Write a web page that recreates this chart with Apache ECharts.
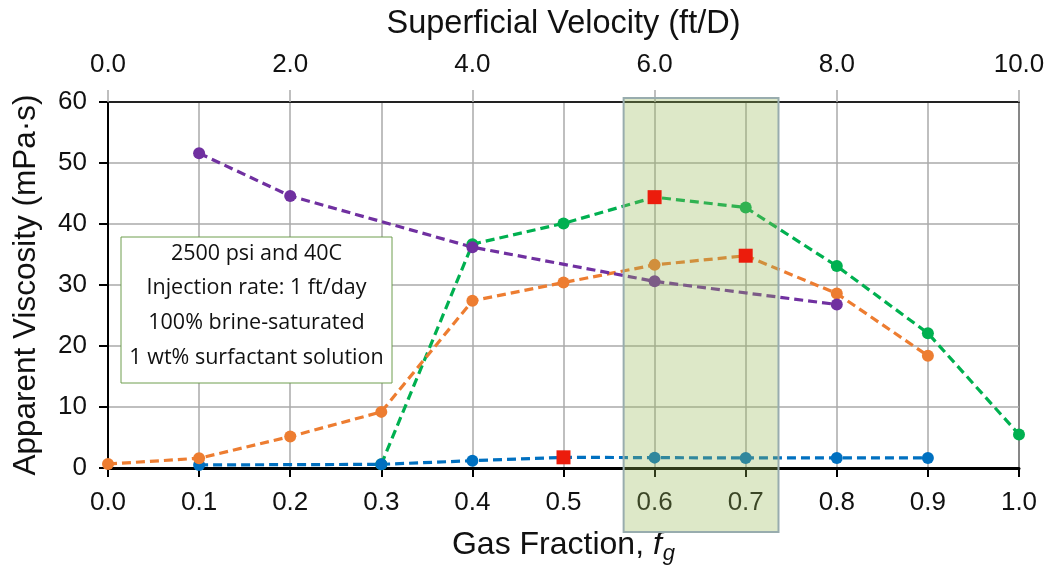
<!DOCTYPE html>
<html><head><meta charset="utf-8">
<script src="https://cdn.jsdelivr.net/npm/echarts@6/dist/echarts.min.js"></script>
<style>html,body{margin:0;padding:0;background:#fff}#c{width:1051px;height:570px}</style>
</head><body><div id="c"></div>
<script>
// Gas fraction values per series
const greenX  = [0.3, 0.4, 0.5, 0.6, 0.7, 0.8, 0.9, 1.0];
const greenY  = [0.6, 36.7, 40.1, 44.4, 42.7, 33.1, 22.1, 5.5];
const blueX   = [0.1, 0.3, 0.4, 0.5, 0.6, 0.7, 0.8, 0.9];
const blueY   = [0.5, 0.6, 1.2, 1.75, 1.7, 1.65, 1.65, 1.65];
const orangeX = [0.0, 0.1, 0.2, 0.3, 0.4, 0.5, 0.6, 0.7, 0.8, 0.9];
const orangeY = [0.65, 1.6, 5.15, 9.2, 27.4, 30.4, 33.3, 34.8, 28.6, 18.4];
const purpleX = [0.1, 0.2, 0.4, 0.6, 0.8];
const purpleY = [51.6, 44.6, 36.2, 30.6, 26.8];
// highlighted (red square) points: x value per series
const greenHi = 0.6, orangeHi = 0.7, blueHi = 0.5;
const annotationLines = ['2500 psi and 40C', 'Injection rate: 1 ft/day', '100% brine-saturated', '1 wt% surfactant solution'];
const shadeRange = [0.566, 0.736];

const FONT = '"Liberation Sans", Arial, sans-serif';
const RED = '#ec1c0c';

function mk(xs, ys, hi) {
  return xs.map((x, i) => x === hi ? {value: [x, ys[i]], symbol: 'none'} : [x, ys[i]]);
}
function series(name, xs, ys, color, hi) {
  return {
    name, type: 'line', data: mk(xs, ys, hi), xAxisIndex: 0, yAxisIndex: 0,
    symbol: 'circle', symbolSize: 12, showSymbol: true,
    lineStyle: {color, width: 3.2, type: [9, 5]},
    itemStyle: {color}, animation: false
  };
}
const hiPoints = [[greenX, greenY, greenHi], [orangeX, orangeY, orangeHi], [blueX, blueY, blueHi]]
  .map(([xs, ys, h]) => [h, ys[xs.indexOf(h)]]);

const chart = echarts.init(document.getElementById('c'), null, {renderer: 'canvas'});
chart.setOption({
  animation: false,
  grid: {left: 108, right: 32, top: 102, bottom: 99, show: true, borderColor: '#222', borderWidth: 2, backgroundColor: 'transparent'},
  xAxis: [{
    type: 'value', min: 0, max: 1, interval: 0.1, position: 'bottom',
    axisLine: {show: true, onZero: false, lineStyle: {color: '#000', width: 3}},
    axisTick: {show: true, length: 9, lineStyle: {color: '#000', width: 2}},
    axisLabel: {margin: 22, fontFamily: FONT, fontSize: 26, color: '#111', formatter: v => v.toFixed(1)},
    splitLine: {show: true, lineStyle: {color: '#aaaaaa', width: 1.5}},
    name: '{n|Gas Fraction, }{i|f}{s|g}', nameLocation: 'middle', nameGap: 61,
    nameTextStyle: {rich: {
      n: {fontFamily: FONT, fontSize: 32, color: '#111', verticalAlign: 'top', lineHeight: 34},
      i: {fontFamily: FONT, fontSize: 32, color: '#111', fontStyle: 'italic', verticalAlign: 'top', lineHeight: 34},
      s: {fontFamily: FONT, fontSize: 22, color: '#111', fontStyle: 'italic', verticalAlign: 'top', lineHeight: 34, padding: [14, 0, 0, 1]}
    }}
  }, {
    type: 'value', min: 0, max: 10, interval: 2, position: 'top',
    axisLine: {show: true, onZero: false, lineStyle: {color: '#222', width: 2}},
    axisTick: {show: true, length: 12, lineStyle: {color: '#aaaaaa', width: 1.5}},
    axisLabel: {margin: 24, fontFamily: FONT, fontSize: 26, color: '#111', formatter: v => v.toFixed(1)},
    splitLine: {show: false},
    name: 'Superficial Velocity (ft/D)', nameLocation: 'middle', nameGap: 61,
    nameTextStyle: {fontFamily: FONT, fontSize: 32.5, color: '#111'}
  }],
  yAxis: {
    type: 'value', min: 0, max: 60, interval: 10,
    axisLine: {show: true, lineStyle: {color: '#000', width: 2}},
    axisTick: {show: true, length: 9, lineStyle: {color: '#000', width: 2}},
    axisLabel: {margin: 21, fontFamily: FONT, fontSize: 26, color: '#111'},
    splitLine: {show: true, lineStyle: {color: '#aaaaaa', width: 1.5}},
    name: 'Apparent Viscosity (mPa·s)', nameLocation: 'middle', nameGap: 66,
    nameTextStyle: {fontFamily: FONT, fontSize: 31.5, color: '#111'}
  },
  series: [
    series('green', greenX, greenY, '#00b050', greenHi),
    series('blue', blueX, blueY, '#0070c0', blueHi),
    series('orange', orangeX, orangeY, '#ed7d31', orangeHi),
    series('purple', purpleX, purpleY, '#7030a0', null),
    {name: 'highlight', type: 'scatter', data: hiPoints, symbol: 'rect', symbolSize: 14,
     itemStyle: {color: RED, opacity: 1}, z: 200, animation: false}
  ]
});

const x0 = chart.convertToPixel({xAxisIndex: 0}, shadeRange[0]);
const x1 = chart.convertToPixel({xAxisIndex: 0}, shadeRange[1]);
chart.setOption({
  graphic: [
    {type: 'rect', z: 100, shape: {x: x0, y: 98, width: x1 - x0, height: 434},
     style: {fill: 'rgba(150,185,85,0.32)', stroke: '#98acae', lineWidth: 2}},
    {type: 'rect', z: 101, shape: {x: 121, y: 237, width: 271, height: 146},
     style: {fill: '#fff', stroke: '#6f9e4f', lineWidth: 1}},
    {type: 'text', z: 102, x: 256.5, y: 305.5,
     style: {text: annotationLines.join('\n'), fontFamily: '"Open Sans", "Noto Sans", sans-serif', fontSize: 21.5,
       lineHeight: 34.7, fill: '#111', align: 'center', verticalAlign: 'middle'}}
  ]
});
</script></body></html>
